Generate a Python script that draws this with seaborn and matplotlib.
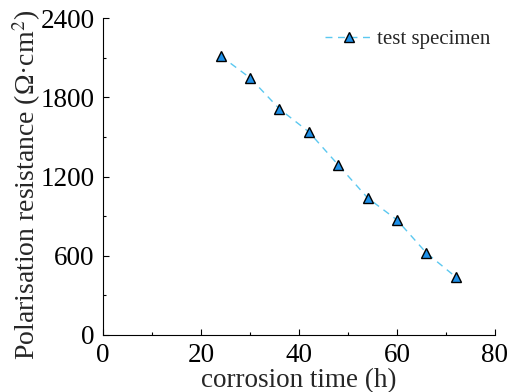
import matplotlib
matplotlib.use("Agg")
import matplotlib.pyplot as plt
import seaborn as sns
import pandas as pd
from matplotlib.ticker import MultipleLocator

time_h = [24, 30, 36, 42, 48, 54, 60, 66, 72]
resistance = [2113, 1947, 1712, 1538, 1288, 1038, 871, 621, 439]
series_name = "test specimen"

df = pd.DataFrame({"t": time_h, "r": resistance})

sns.set_style("ticks")
plt.rcParams['font.family'] = ['Liberation Serif', 'DejaVu Serif']
plt.rcParams['mathtext.fontset'] = 'stix'

fig = plt.figure(figsize=(5.1, 3.92), dpi=100)
ax = fig.add_axes([103/510, 57/392, 392/510, 317/392])

sns.lineplot(data=df, x="t", y="r", ax=ax, color="#5bc8f0", linestyle=(0, (5, 4)),
             linewidth=1.0, marker="^", markersize=7.5, markerfacecolor="#1e90e8",
             markeredgecolor="black", markeredgewidth=1.0, label=series_name)

ax.set_xlim(0, 80)
ax.set_ylim(0, 2400)
ax.xaxis.set_major_locator(MultipleLocator(20))
ax.xaxis.set_minor_locator(MultipleLocator(10))
ax.yaxis.set_major_locator(MultipleLocator(600))
ax.yaxis.set_minor_locator(MultipleLocator(300))
ax.tick_params(which="both", direction="in", labelsize=19.5, colors="black")
ax.tick_params(axis="x", pad=6)
ax.tick_params(axis="y", pad=6)
ax.tick_params(which="major", length=4, width=0.8)
ax.tick_params(which="minor", length=2.5, width=0.8)
for s in ["top", "right"]:
    ax.spines[s].set_visible(False)
for s in ["left", "bottom"]:
    ax.spines[s].set_linewidth(0.8)
    ax.spines[s].set_color("black")

ax.set_xlabel("corrosion time (h)", fontsize=19.5, labelpad=0)
ax.set_ylabel("Polarisation resistance (Ω·cm$^2$)", fontsize=20)
ax.yaxis.set_label_coords(-0.152, 0.473)

leg = ax.legend(loc="upper right", frameon=False, fontsize=15, handlelength=2.3,
                bbox_to_anchor=(1.02, 1.003), borderaxespad=0.2, handletextpad=0.2)

fig.savefig("out.png", dpi=100)
